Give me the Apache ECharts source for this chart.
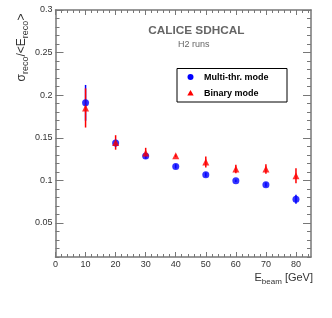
<!DOCTYPE html>
<html><head><meta charset="utf-8">
<script src="https://cdn.jsdelivr.net/npm/echarts@6/dist/echarts.min.js"></script>
<style>html,body{margin:0;padding:0;background:#fff}#c{width:332px;height:318px}</style>
</head><body><div id="c"></div>
<script>
const energies = [10, 20, 30, 40, 50, 60, 70, 80];
const multiVal = [0.191, 0.1437, 0.1285, 0.1164, 0.1066, 0.0996, 0.0949, 0.0777];
const multiErr = [0.021, 0.004, 0.003, 0.0025, 0.0025, 0.0015, 0.0025, 0.0053];
const binaryVal = [0.185, 0.1445, 0.132, 0.1289, 0.1215, 0.1133, 0.1133, 0.1055];
const binaryErr = [0.023, 0.0085, 0.0062, 0.0015, 0.0065, 0.0049, 0.0057, 0.0088];
const yTickLabels = [0.05, 0.1, 0.15, 0.2, 0.25, 0.3];
const yMinorTicks = [0.01,0.02,0.03,0.04,0.06,0.07,0.08,0.09,0.11,0.12,0.13,0.14,0.16,0.17,0.18,0.19,0.21,0.22,0.23,0.24,0.26,0.27,0.28,0.29];
const xTickLabels = [0, 10, 20, 30, 40, 50, 60, 70, 80];
const xMinorTicks = [2,4,6,8,12,14,16,18,22,24,26,28,32,34,36,38,42,44,46,48,52,54,56,58,62,64,66,68,72,74,76,78,82,84];

const FONT = 'Liberation Sans, Arial, Helvetica, sans-serif';
const AX = '#777';
const chart = echarts.init(document.getElementById('c'), null, {renderer: 'canvas'});

function xAx(pos, vals, len, labels, line) {
  return {type: 'value', position: pos, min: 0, max: 85, splitLine: {show: false},
    axisLine: {show: line, onZero: false, lineStyle: {color: AX, width: 1.5}},
    axisTick: {show: true, inside: true, length: len, customValues: vals, lineStyle: {color: AX, width: 1}},
    axisLabel: labels ? {show: true, customValues: vals, color: '#333', fontSize: 9, fontFamily: FONT, margin: 3} : {show: false}};
}
function yAx(pos, vals, len, labels, line) {
  return {type: 'value', position: pos, min: 0.01, max: 0.3, splitLine: {show: false},
    axisLine: {show: line, onZero: false, lineStyle: {color: AX, width: 1.5}},
    axisTick: {show: true, inside: true, length: len, customValues: vals, lineStyle: {color: AX, width: 1}},
    axisLabel: labels ? {show: true, customValues: vals, color: '#333', fontSize: 9, fontFamily: FONT, margin: 3,
      formatter: v => String(+v.toFixed(3))} : {show: false}};
}

function errSeries(vals, errs, color) {
  return {type: 'custom', xAxisIndex: 0, yAxisIndex: 0, z: 3,
    data: energies.map((e, i) => [e, vals[i], errs[i]]),
    renderItem: (params, api) => {
      const x = api.value(0), y = api.value(1), er = api.value(2);
      const p1 = api.coord([x, y - er]), p2 = api.coord([x, y + er]);
      return {type: 'line', shape: {x1: p1[0], y1: p1[1], x2: p2[0], y2: p2[1]},
        style: {stroke: color, lineWidth: 1.5}};
    }};
}

const option = {
  animation: false,
  grid: {left: 55.5, right: 21, top: 10, bottom: 61},
  xAxis: [
    xAx('bottom', xTickLabels, 5, true, true),
    xAx('bottom', xMinorTicks, 3, false, false),
    xAx('top', xTickLabels, 5, false, true),
    xAx('top', xMinorTicks, 3, false, false)
  ],
  yAxis: [
    yAx('left', yTickLabels, 8, true, true),
    yAx('left', yMinorTicks, 4, false, false),
    yAx('right', yTickLabels, 8, false, true),
    yAx('right', yMinorTicks, 4, false, false)
  ],
  series: [
    errSeries(multiVal, multiErr, '#0000ff'),
    {type: 'scatter', name: 'Multi-thr. mode', xAxisIndex: 0, yAxisIndex: 0, z: 4,
      symbol: 'circle', symbolSize: 7, itemStyle: {color: '#0000ff'},
      data: energies.map((e, i) => [e, multiVal[i]])},
    errSeries(binaryVal, binaryErr, '#ff0000'),
    {type: 'scatter', name: 'Binary mode', xAxisIndex: 0, yAxisIndex: 0, z: 5,
      symbol: 'triangle', symbolSize: 7, itemStyle: {color: '#ff0000'},
      data: energies.map((e, i) => [e, binaryVal[i]])}
  ],
  graphic: [
    {type: 'text', x: 244.5, y: 31, style: {text: 'CALICE SDHCAL', align: 'right', verticalAlign: 'middle', fontSize: 11.8, fontWeight: 'bold', fontFamily: FONT, fill: '#666'}},
    {type: 'text', x: 178, y: 45, style: {text: 'H2 runs', verticalAlign: 'middle', fontSize: 9, fontFamily: FONT, fill: '#666'}},
    {type: 'rect', shape: {x: 177, y: 68.5, width: 110, height: 33.5}, style: {fill: '#fff', stroke: '#000', lineWidth: 1}, z: 10},
    {type: 'circle', shape: {cx: 190.5, cy: 77, r: 3}, style: {fill: '#0000ff'}, z: 11},
    {type: 'polygon', shape: {points: [[190.5, 90], [187.3, 95.5], [193.7, 95.5]]}, style: {fill: '#ff0000'}, z: 11},
    {type: 'text', x: 204, y: 77.5, z: 11, style: {text: 'Multi-thr. mode', verticalAlign: 'middle', fontSize: 9, fontWeight: 'bold', fontFamily: FONT, fill: '#000'}},
    {type: 'text', x: 204, y: 93.5, z: 11, style: {text: 'Binary mode', verticalAlign: 'middle', fontSize: 9, fontWeight: 'bold', fontFamily: FONT, fill: '#000'}},
    {type: 'text', x: 23, y: 47.5, rotation: Math.PI / 2,
      style: {text: '{a|σ}{s|reco}{a|/<E}{s|reco}{a|>}', align: 'center', verticalAlign: 'middle', fill: '#333',
        rich: {a: {fontSize: 12, fontFamily: FONT, fill: '#333', verticalAlign: 'top', lineHeight: 15},
               s: {fontSize: 9, fontFamily: FONT, fill: '#333', verticalAlign: 'bottom', lineHeight: 15}}}},
    {type: 'text', x: 313, y: 279,
      style: {text: '{a|E}{s|beam}{a| [GeV]}', align: 'right', verticalAlign: 'middle', fill: '#333',
        rich: {a: {fontSize: 11, fontFamily: FONT, fill: '#333', verticalAlign: 'top', lineHeight: 14},
               s: {fontSize: 8, fontFamily: FONT, fill: '#333', verticalAlign: 'bottom', lineHeight: 14}}}}
  ]
};
chart.setOption(option);
</script></body></html>
